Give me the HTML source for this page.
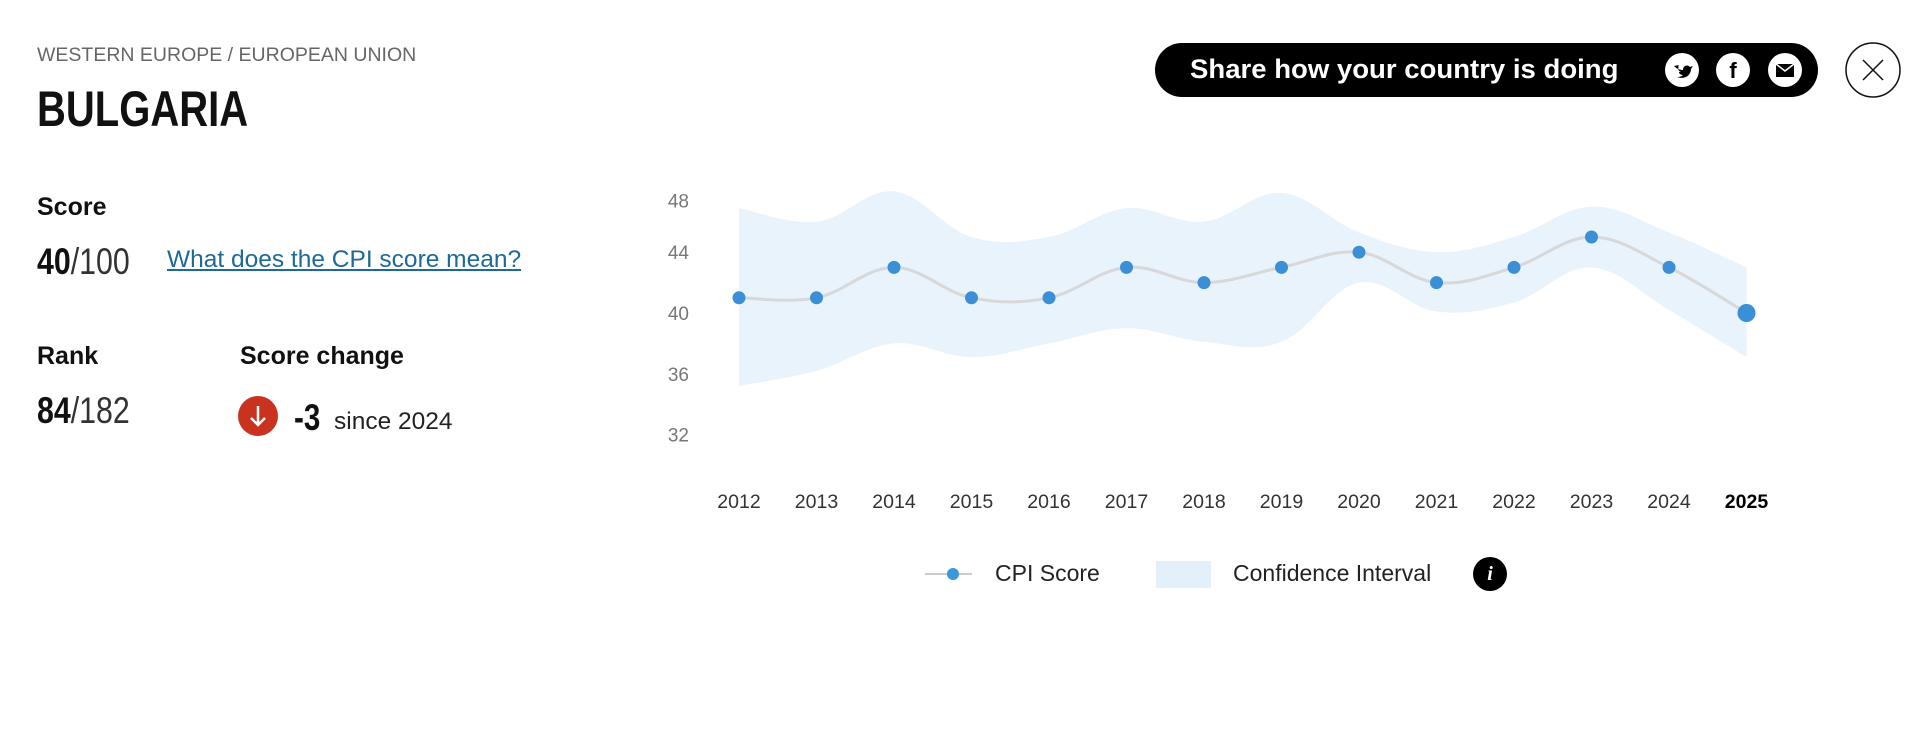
<!DOCTYPE html>
<html><head><meta charset="utf-8">
<style>
body{margin:0;width:1920px;height:738px;background:#fff;font-family:"Liberation Sans",sans-serif;overflow:hidden;position:relative;color:#111}
.a{position:absolute;white-space:nowrap}
</style></head><body>
<div class="a" style="left:37px;top:44px;font-size:19.5px;color:#666">WESTERN EUROPE / EUROPEAN UNION</div>
<div class="a" style="left:37px;top:80px;font-size:50px;font-weight:bold;transform:scaleX(0.8);transform-origin:left">BULGARIA</div>
<div class="a" style="left:37px;top:193px;font-size:25px;font-weight:bold">Score</div>
<div class="a" style="left:37px;top:241px;font-size:37px;transform:scaleX(0.82);transform-origin:left"><b>40</b><span style="color:#333">/100</span></div>
<div class="a" style="left:167px;top:246px;font-size:24.5px;color:#1d6a96;text-decoration:underline">What does the CPI score mean?</div>
<div class="a" style="left:37px;top:342px;font-size:25px;font-weight:bold">Rank</div>
<div class="a" style="left:37px;top:390px;font-size:37px;transform:scaleX(0.82);transform-origin:left"><b>84</b><span style="color:#333">/182</span></div>
<div class="a" style="left:240px;top:342px;font-size:25px;font-weight:bold">Score change</div>
<svg class="a" style="left:238px;top:396px" width="40" height="40"><circle cx="20" cy="20" r="20" fill="#c8321e"/><path d="M20 10v19M13 22l7 7 7-7" stroke="#fff" stroke-width="2.5" fill="none"/></svg>
<div class="a" style="left:294px;top:397px;font-size:37px;font-weight:bold;transform:scaleX(0.8);transform-origin:left">-3</div>
<div class="a" style="left:334px;top:408px;font-size:24.5px;color:#222">since 2024</div>

<div class="a" style="left:1155px;top:43px;width:663px;height:54px;background:#000;border-radius:27px"></div>
<div class="a" style="left:1190px;top:54px;font-size:27px;font-weight:bold;color:#fff;transform:scaleX(1.02);transform-origin:left">Share how your country is doing</div>
<svg class="a" style="left:1660px;top:50px" width="150" height="40">
<circle cx="22" cy="20" r="17" fill="#fff"/><path d="M14 16c3 3 6 4 9 4 0-4 4-6 7-3l3-1-2 3c0 6-6 11-14 8 3 0 5-1 6-2-3 0-4-2-4-3h2c-2-1-3-2-3-4l2 1c-2-1-2-3-1-4z" fill="#000"/>
<circle cx="73" cy="20" r="17" fill="#fff"/><text x="73" y="28" text-anchor="middle" font-size="22" font-weight="bold" fill="#000">f</text>
<circle cx="125" cy="20" r="17" fill="#fff"/><rect x="116" y="14" width="18" height="13" fill="#000"/><path d="M116 14l9 7 9-7" stroke="#fff" stroke-width="1.5" fill="none"/>
</svg>
<svg class="a" style="left:1845px;top:42px" width="56" height="56"><circle cx="28" cy="28" r="27" fill="#fff" stroke="#111" stroke-width="1.5"/><path d="M18 18l20 20M38 18l-20 20" stroke="#111" stroke-width="1.5"/></svg>

<svg id="chart" class="a" style="left:0;top:0" width="1920" height="738"></svg>

<div class="a" style="left:925px;top:573px;width:47px;height:2px;background:#ccc"></div>
<div class="a" style="left:947px;top:568px;width:12px;height:12px;border-radius:6px;background:#3a97d9"></div>
<div class="a" style="left:995px;top:560px;font-size:23px;color:#222">CPI Score</div>
<div class="a" style="left:1156px;top:561px;width:55px;height:27px;background:#e3eff9"></div>
<div class="a" style="left:1233px;top:560px;font-size:23px;color:#222">Confidence Interval</div>
<div class="a" style="left:1473px;top:557px;width:34px;height:34px;border-radius:17px;background:#000;color:#fff;font-size:20px;font-weight:bold;font-style:italic;text-align:center;line-height:34px;font-family:'Liberation Serif',serif">i</div>

<script>
const years=[2012,2013,2014,2015,2016,2017,2018,2019,2020,2021,2022,2023,2024,2025];
const scores=[41,41,43,41,41,43,42,43,44,42,43,45,43,40];
const upper=[46.9,46,48,45,45,46.9,46,47.9,45.3,44,45,47,45.3,43];
const lower=[35.2,36.2,38,37.1,38,39,38.1,38.1,42,40.1,40.7,43,40.2,37.1];
const yTicks=[48,44,40,36,32];
const NS="http://www.w3.org/2000/svg";
const svg=document.getElementById('chart');
const x=i=>739+i*77.5;
const y=v=>313-(v-40)*15.2;
function mk(t,a){const e=document.createElementNS(NS,t);for(const k in a)e.setAttribute(k,a[k]);svg.appendChild(e);return e;}
function curve(pts){let d='M'+pts[0][0]+','+pts[0][1];for(let i=0;i<pts.length-1;i++){const p0=pts[Math.max(0,i-1)],p1=pts[i],p2=pts[i+1],p3=pts[Math.min(pts.length-1,i+2)];const t=0.18;const c1=[p1[0]+(p2[0]-p0[0])*t,p1[1]+(p2[1]-p0[1])*t],c2=[p2[0]-(p3[0]-p1[0])*t,p2[1]-(p3[1]-p1[1])*t];d+=`C${c1[0]},${c1[1]} ${c2[0]},${c2[1]} ${p2[0]},${p2[1]}`;}return d;}
const up=upper.map((v,i)=>[x(i),y(v)]);const lo=lower.map((v,i)=>[x(i),y(v)]).reverse();
const band=mk('path',{d:curve(up)+curve(lo).replace('M','L')+'Z',fill:'#e8f3fc'});


yTicks.forEach(t=>{const e=mk('text',{x:689,y:(t===48?y(t)+16:y(t)+7),'text-anchor':'end','font-size':19,fill:'#777','font-family':'Liberation Sans'});e.textContent=t;

});
const line=mk('path',{d:curve(scores.map((v,i)=>[x(i),y(v)])),fill:'none',stroke:'#d8d8d8','stroke-width':3});


scores.forEach((v,i)=>{const last=i===scores.length-1;const c=mk('circle',{cx:x(i),cy:y(v),r:last?9:6.5,fill:'#3a8fd6'});

});
years.forEach((yr,i)=>{const last=i===years.length-1;const e=mk('text',{x:x(i),y:508,'text-anchor':'middle','font-size':19.5,fill:last?'#000':'#333','font-weight':last?'bold':'normal','font-family':'Liberation Sans'});e.textContent=yr;

});
</script>
</body></html>
